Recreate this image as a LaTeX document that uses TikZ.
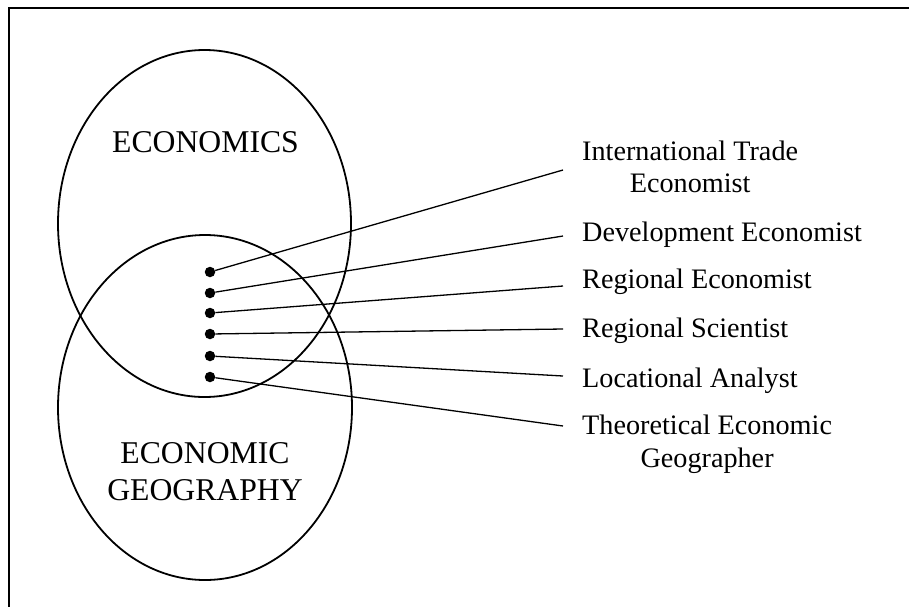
\documentclass[tikz,border=0pt]{standalone}
\usepackage{fontspec}
\setmainfont{Liberation Serif}
\usetikzlibrary{shapes.geometric}
\begin{document}
\begin{tikzpicture}[x=1pt,y=-1pt,
  frame/.style={line width=2.4pt, line cap=rect},
  ring/.style={draw, ellipse, line width=1.8pt, inner sep=0pt},
  dot/.style={circle, fill=black, inner sep=0pt, minimum size=10.5pt},
  link/.style={line width=1.3pt},
  setname/.style={font=\fontsize{31.7}{37}\selectfont, align=center, inner sep=0pt},
  role/.style={font=\fontsize{28.2}{32.5}\selectfont, align=center, inner sep=0pt}]
\useasboundingbox (0,0) rectangle (909,606);
\draw[frame] (9,606) -- (9,8) -- (909,8);
\node[ring, minimum width=293pt, minimum height=347pt] (econ) at (204.5,223.5) {};
\node[ring, minimum width=294pt, minimum height=345pt] (geo) at (205,407.5) {};
\node[setname, anchor=base] (econlab) at (205.5,152) {ECONOMICS};
\node[setname, anchor=center] (geolab) at (205,471.5) {ECONOMIC\\GEOGRAPHY};
\node[dot] (d1) at (210,272) {};
\node[dot] (d2) at (210,293) {};
\node[dot] (d3) at (210,313) {};
\node[dot] (d4) at (210,334) {};
\node[dot] (d5) at (210,356) {};
\node[dot] (d6) at (210,377) {};
\coordinate (e1) at (563,170);
\coordinate (e2) at (563,236);
\coordinate (e3) at (563,286);
\coordinate (e4) at (563,329);
\coordinate (e5) at (563,376);
\coordinate (e6) at (563,426);
\node[role, anchor=west] (l1) at (582,166.7) {International Trade\\Economist};
\node[role, anchor=base west] (l2) at (582,241) {Development Economist};
\node[role, anchor=base west] (l3) at (582,288) {Regional Economist};
\node[role, anchor=base west] (l4) at (582,337) {Regional Scientist};
\node[role, anchor=base west] (l5) at (582,387) {Locational Analyst};
\node[role, anchor=west] (l6) at (582,444) {Theoretical Economic\\Geographer};
\foreach \i in {1,...,6} {\draw[link] (d\i) -- (e\i);}
\end{tikzpicture}
\end{document}
